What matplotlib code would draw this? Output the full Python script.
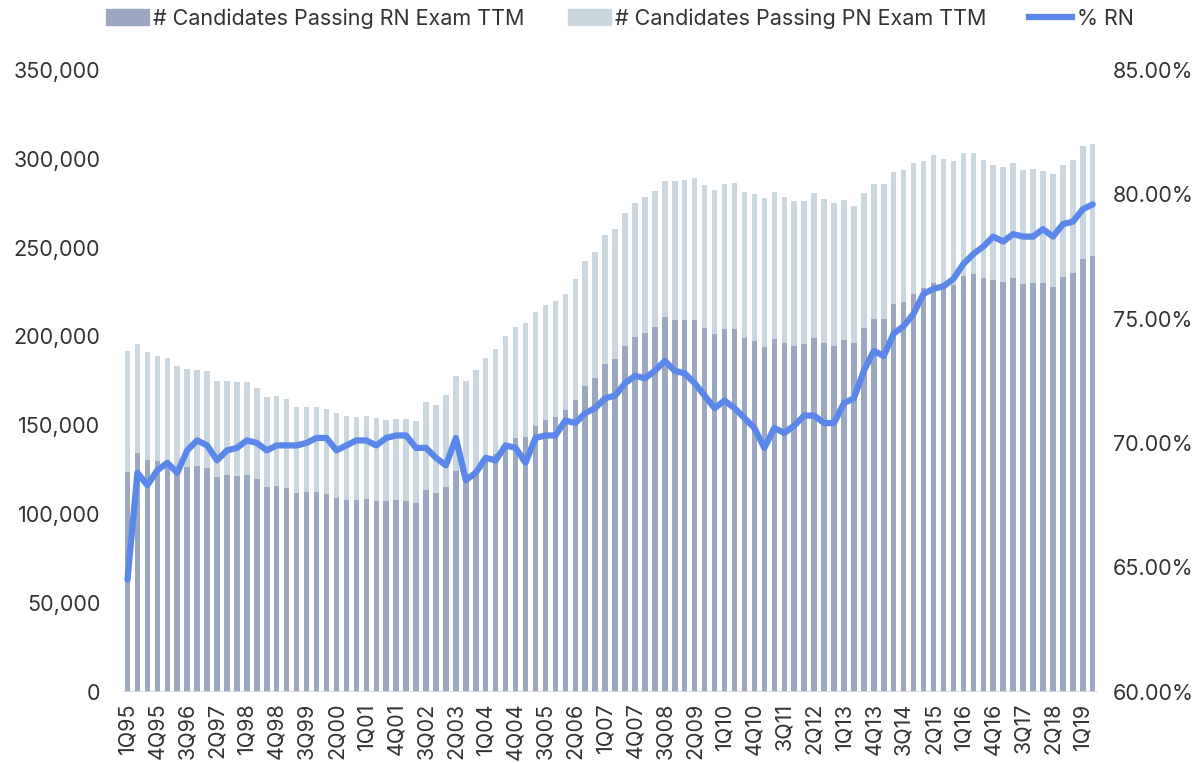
import matplotlib
matplotlib.use('Agg')
import matplotlib.pyplot as plt
from matplotlib.patches import Patch
from matplotlib.lines import Line2D
from matplotlib.ticker import FuncFormatter

# --- data ---
quarters = [f'{q}Q{y % 100:02d}' for y in range(1995, 2020) for q in range(1, 5)][:98]

rn_passing = [
    123400, 134100, 130200, 129600, 129800, 126100, 126200, 126800, 125700, 120600,
    121700, 121200, 121700, 119500, 115100, 115700, 114400, 111600, 112200, 112300,
    111200, 108800, 107700, 107700, 108200, 107100, 107100, 107700, 107100, 106000,
    113300, 111600, 115100, 124300, 119900, 124500, 130200, 133600, 138800, 142900,
    143500, 149500, 152900, 154400, 158500, 164100, 172000, 176500, 184400, 187100,
    194700, 199600, 201900, 205100, 210700, 209000, 209000, 209000, 204500, 201300,
    203900, 204300, 199000, 197400, 194000, 198500, 196100, 194500, 195800, 199000,
    196100, 194500, 197900, 196100, 204700, 209900, 209900, 218000, 219100, 223800,
    227000, 229800, 228700, 229000, 233900, 234900, 233000, 231900, 230600, 232800,
    229400, 229800, 229800, 227900, 233400, 235500, 243500, 245200,
]

total_passing = [
    191900, 195500, 191200, 188700, 187600, 183300, 181600, 181200, 180500, 175000,
    175000, 174100, 174100, 171100, 165800, 166400, 164500, 160400, 160500, 160500,
    159200, 156800, 155000, 154400, 155000, 153800, 153100, 153600, 153300, 152300,
    162800, 161300, 167100, 177500, 175000, 181000, 187600, 192800, 200300, 205100,
    207500, 213500, 217600, 219700, 223800, 232100, 242200, 247500, 257000, 260600,
    269300, 274900, 278600, 281600, 287600, 287300, 287800, 289300, 285200, 282400,
    285600, 286500, 281100, 280100, 277900, 281400, 278400, 276000, 276000, 280500,
    277100, 274900, 276700, 273200, 280500, 285600, 285900, 292700, 293500, 297400,
    298900, 301900, 299800, 298900, 303000, 303000, 299100, 296500, 295200, 297400,
    293500, 294000, 292900, 291400, 296300, 299100, 307000, 308400,
]
pn_passing = [t - r for t, r in zip(total_passing, rn_passing)]

pct_rn = [
    64.5, 68.8, 68.3, 68.9, 69.2, 68.8, 69.7, 70.1, 69.9, 69.3,
    69.7, 69.8, 70.1, 70.0, 69.7, 69.9, 69.9, 69.9, 70.0, 70.2,
    70.2, 69.7, 69.9, 70.1, 70.1, 69.9, 70.2, 70.3, 70.3, 69.8,
    69.8, 69.4, 69.1, 70.2, 68.5, 68.8, 69.4, 69.3, 69.9, 69.8,
    69.2, 70.2, 70.3, 70.3, 70.9, 70.8, 71.2, 71.4, 71.8, 71.9,
    72.4, 72.7, 72.6, 72.9, 73.3, 72.9, 72.8, 72.4, 71.9, 71.4,
    71.7, 71.4, 71.0, 70.6, 69.8, 70.6, 70.4, 70.7, 71.1, 71.1,
    70.8, 70.8, 71.6, 71.8, 72.9, 73.7, 73.5, 74.4, 74.7, 75.2,
    76.0, 76.2, 76.3, 76.6, 77.2, 77.6, 77.9, 78.3, 78.1, 78.4,
    78.3, 78.3, 78.6, 78.3, 78.8, 78.9, 79.4, 79.6,
]

RN_COLOR = '#9ba8c0'
PN_COLOR = '#cad7df'
LINE_COLOR = '#5b87ea'
TEXT_COLOR = '#333333'
FS = 15.5

plt.rcParams['font.family'] = ['Inter', 'DejaVu Sans']

fig = plt.figure(figsize=(12.01, 7.63), dpi=100)
ax = fig.add_axes([0.102, 0.0937, 0.812, 0.8145])
ax2 = ax.twinx()

x = list(range(len(quarters)))
ax.bar(x, rn_passing, width=0.55, color=RN_COLOR, zorder=2)
ax.bar(x, pn_passing, width=0.55, bottom=rn_passing, color=PN_COLOR, zorder=2)
ax.axhline(0, color='#d9d9d9', lw=1.2, zorder=3)

ax2.plot(x, pct_rn, color=LINE_COLOR, lw=4.5, solid_joinstyle='round', solid_capstyle='round')

ax.set_xlim(-0.5, len(quarters) - 0.5)
ax.set_ylim(0, 350000)
ax.set_yticks(range(0, 350001, 50000))
ax.yaxis.set_major_formatter(FuncFormatter(lambda v, p: f'{int(v):,}'))
ax2.set_ylim(60, 85)
ax2.set_yticks(range(60, 86, 5))
ax2.yaxis.set_major_formatter(FuncFormatter(lambda v, p: f'{v:.2f}%'))

ax.set_xticks(x[::3])
ax.set_xticklabels(quarters[::3], rotation=90)

for a in (ax, ax2):
    for s in a.spines.values():
        s.set_visible(False)
    a.tick_params(length=0, labelsize=FS, colors=TEXT_COLOR)
ax.tick_params(axis='y', pad=16)
ax.tick_params(axis='x', pad=8)
ax2.tick_params(axis='y', pad=11)

handles = [
    Patch(color=RN_COLOR, label='# Candidates Passing RN Exam TTM'),
    Patch(color=PN_COLOR, label='# Candidates Passing PN Exam TTM'),
    Line2D([0], [0], color=LINE_COLOR, lw=4.5, label='% RN'),
]
fig.legend(handles=handles, loc='center', bbox_to_anchor=(0.516, 0.976), ncol=3,
           frameon=False, fontsize=FS, handlelength=2.0, handleheight=0.7,
           handletextpad=0.2, columnspacing=2.0, labelcolor=TEXT_COLOR)

fig.savefig('out.png', dpi=100)
